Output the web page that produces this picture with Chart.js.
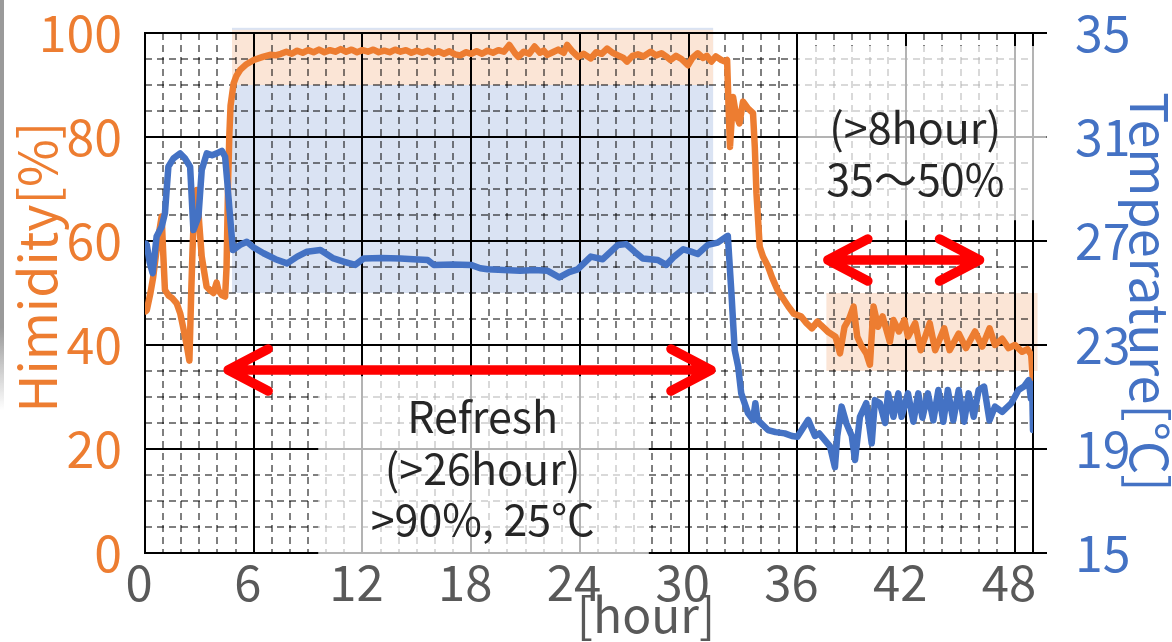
<!DOCTYPE html>
<html>
<head>
<meta charset="utf-8">
<script src="https://cdn.jsdelivr.net/npm/chart.js@4.4.1/dist/chart.umd.min.js"></script>
<style>
html, body { margin: 0; padding: 0; background: #ffffff; }
#wrap { position: relative; width: 1172px; height: 642px; overflow: hidden; }
#wrap canvas { position: absolute; left: 0; top: 0; }
#edge { position: absolute; left: 0; top: 0; width: 4px; height: 410px;
        background: linear-gradient(to bottom, #9a9a9a 0%, #9a9a9a 80%, rgba(255,255,255,0) 100%); }
</style>
</head>
<body>
<div id="wrap">
  <canvas id="chart" width="1172" height="642"></canvas>
  <div id="edge"></div>
</div>
<script>
// ---------------- data ----------------
const humidityHours = [
  0.05, 0.1, 0.3, 0.45, 0.7, 0.92, 1.0, 1.1, 1.3, 1.5,
  1.75, 1.95, 2.1, 2.3, 2.45, 2.55, 2.62, 2.7, 2.86, 3.0,
  3.13, 3.4, 3.6, 3.78, 3.95, 4.05, 4.24, 4.42, 4.5, 4.58,
  4.65, 4.72, 4.89, 5.05, 5.25, 5.6, 6.0, 6.5, 6.9, 7.2,
  7.5, 7.8, 8.1, 8.4, 8.7, 9.0, 9.3, 9.6, 9.9, 10.2,
  10.5, 10.8, 11.1, 11.4, 11.7, 12.0, 12.3, 12.6, 12.9, 13.2,
  13.5, 13.8, 14.1, 14.4, 14.7, 15.0, 15.3, 15.6, 15.9, 16.2,
  16.5, 16.8, 17.1, 17.4, 17.7, 18.0, 18.3, 18.6, 18.9, 19.2,
  19.5, 19.8, 20.1, 20.4, 20.6, 20.9, 21.2, 21.5, 21.8, 22.0,
  22.2, 22.5, 22.8, 23.1, 23.3, 23.6, 23.9, 24.2, 24.6, 24.9,
  25.2, 25.5, 25.8, 26.1, 26.4, 26.6, 26.9, 27.2, 27.5, 27.9,
  28.2, 28.5, 28.8, 29.0, 29.3, 29.6, 29.96, 30.2, 30.5, 30.8,
  31.0, 31.25, 31.5, 31.8, 32.0, 32.12, 32.2, 32.28, 32.45, 32.6,
  32.8, 33.0, 33.27, 33.55, 33.65, 33.74, 33.92, 34.1, 34.38, 34.6,
  34.9, 35.2, 35.5, 35.8, 36.2, 36.5, 36.8, 37.1, 37.3, 37.7,
  38.1, 38.35, 38.6, 38.85, 39.1, 39.3, 39.55, 39.8, 40.0, 40.2,
  40.45, 40.7, 41.1, 41.3, 41.6, 41.9, 42.1, 42.5, 42.8, 43.3,
  43.6, 44.1, 44.4, 44.9, 45.3, 45.8, 46.2, 46.6, 46.9, 47.3,
  47.65, 48.0, 48.4, 48.7, 48.9, 49.0
];
const humidity = [
  46.5, 46.7, 50, 53, 60, 64.7, 58, 50.6, 49.5, 49,
  48, 46, 43.5, 40, 37, 50, 58, 65, 69.8, 63,
  57, 51.2, 50.5, 50, 52, 50.5, 49.6, 49.3, 55, 70,
  80, 86, 90.3, 91.8, 92.9, 94, 94.8, 95.4, 95.8, 95.7,
  96.0, 96.4, 96.0, 96.6, 96.2, 96.7, 96.3, 96.8, 96.3, 96.7,
  96.4, 96.9, 96.4, 96.8, 96.3, 96.7, 96.4, 96.8, 96.3, 96.6,
  96.3, 96.8, 96.4, 96.7, 96.2, 96.6, 96.2, 96.6, 96.1, 96.5,
  96.0, 96.5, 95.9, 95.7, 96.3, 96.0, 96.5, 96.0, 96.6, 96.2,
  96.7, 96.4, 97.7, 96.2, 95.4, 96.4, 96.0, 97.4, 96.2, 96.6,
  95.8, 96.3, 96.8, 96.2, 97.7, 96.4, 95.4, 96.0, 95.1, 96.3,
  96.0, 97.0, 96.2, 95.7, 95.2, 94.5, 95.6, 95.9, 95.5, 96.4,
  95.7, 96.1, 95.4, 94.8, 95.6, 95.0, 93.8, 95.2, 96.1, 95.2,
  95.6, 94.5, 95.5, 94.8, 94.5, 94.8, 86, 78.1, 87.7, 84.5,
  82.6, 86.8, 85.5, 84.6, 78, 69.2, 58.9, 57, 55.1, 53,
  50.6, 49, 47.4, 46, 45.5, 44.2, 43.2, 44.5, 43.8, 42.5,
  41.6, 38.4, 43.5, 45, 47.4, 41.6, 39.7, 38.4, 36.2, 47.4,
  43.5, 45.5, 40.6, 44.8, 42.6, 44.8, 41.6, 44.2, 39.0, 44.2,
  39.0, 43.2, 39.0, 42.2, 39.4, 42.6, 39.7, 43.2, 40.0, 41.2,
  39.4, 40.0, 38.7, 39.2, 38.1, 33
];
const temperatureHours = [
  0.05, 0.1, 0.25, 0.42, 0.64, 0.92, 1.1, 1.29, 1.57, 1.94, 2.2, 2.49, 2.67, 2.95, 3.13, 3.41, 3.7, 3.96, 4.24, 4.42,
  4.55, 4.65, 4.85, 5.25, 5.62, 6.0, 6.54, 7.2, 7.84, 8.4, 8.94, 9.68, 10.4, 11.0, 11.6, 12.07, 13.0, 14.1, 14.8, 15.6,
  15.94, 17.0, 17.98, 18.5, 18.9, 19.8, 20.7, 21.5, 22.2, 22.86, 23.4, 23.87, 24.6, 25.26, 26.1, 26.55, 27.0, 27.47, 28.3, 28.76,
  29.2, 29.7, 30.1, 30.5, 31.06, 31.6, 32.08, 32.16, 32.36, 32.54, 32.73, 32.9, 33.28, 33.55, 33.68, 33.8, 34.38, 34.8, 35.3, 35.7,
  36.0, 36.3, 36.6, 36.97, 37.2, 37.5, 37.8, 38.07, 38.2, 38.44, 38.7, 39.0, 39.18, 39.45, 39.8, 40.1, 40.28, 40.55, 40.84, 41.0,
  41.3, 41.57, 41.75, 42.1, 42.4, 42.67, 42.9, 43.2, 43.5, 43.78, 44.05, 44.3, 44.6, 44.9, 45.2, 45.45, 45.73, 46.0, 46.3, 46.6,
  46.9, 47.3, 47.8, 48.2, 48.5, 48.76, 48.88, 48.95, 49.0
];
const temperature = [
  26.9, 26.85, 26.2, 25.76, 27.17, 27.55, 28.07, 29.86, 30.18, 30.37, 30.18, 29.86, 27.42, 27.94, 29.73, 30.37, 30.3, 30.37, 30.47, 30.24,
  29.2, 28.3, 26.65, 26.85, 26.97, 26.75, 26.53, 26.3, 26.14, 26.4, 26.59, 26.65, 26.33, 26.2, 26.08, 26.33, 26.35, 26.33, 26.3, 26.27,
  26.08, 26.1, 26.08, 25.95, 25.91, 25.88, 25.86, 25.88, 25.86, 25.6, 25.8, 25.91, 26.4, 26.3, 26.85, 26.88, 26.6, 26.33, 26.27, 26.08,
  26.4, 26.68, 26.6, 26.5, 26.85, 26.94, 27.17, 27.2, 24.99, 22.8, 22.17, 21.14, 20.37, 20.12, 20.76, 20.12, 19.73, 19.65, 19.6, 19.5,
  19.47, 19.8, 20.12, 19.5, 19.6, 19.35, 19.1, 18.3, 19.5, 20.63, 19.99, 19.5, 18.58, 20.24, 20.76, 19.22, 20.88, 20.76, 20.0, 21.14,
  20.24, 21.14, 20.24, 21.14, 20.05, 21.14, 20.2, 21.14, 20.1, 21.27, 20.05, 21.27, 20.1, 21.27, 20.05, 21.14, 20.24, 21.27, 21.4, 20.1,
  20.63, 20.43, 20.76, 21.27, 21.4, 21.65, 20.95, 21.5, 19.73
];
const hourTicks = [0, 6, 12, 18, 24, 30, 36, 42, 48];
const humidityTicks = [0, 20, 40, 60, 80, 100];
const temperatureTicks = [15, 19, 23, 27, 31, 35];

// annotation regions (in axis values)
const refreshHours = [4.8, 31.35];
const refreshTemperature = [25, 35.2];
const refreshHumidity = [90, 100.6];
const storageHours = [37.6, 49.25];
const storageHumidity = [35, 50];
const refreshArrow = { from: 4.59, to: 31.23, humidity: 35.2 };
const storageArrow = { from: 37.68, to: 46.05, humidity: 56.35 };
const refreshNote = ['Refresh', '(>26hour)', '>90%, 25°C'];
const storageNote = ['(>8hour)', '35～50%'];
const refreshNoteBox = { hours: [9.56, 27.8], humidity: [-0.6, 34.0] };
const storageNoteBox = { hours: [36.04, 49.75], humidity: [64.0, 97.5] };

// ---------------- styles ----------------
const FONT = '"Noto Sans CJK JP", "Noto Sans", sans-serif';
const ORANGE = '#ED7D31';
const BLUE = '#4472C4';
const GRAYTXT = '#595959';

const pts = (xs, ys) => xs.map((v, i) => ({ x: v, y: ys[i] }));

const decor = {
  id: 'decor',
  beforeDraw(chart) {
    const { ctx, scales: { x, y, y2 } } = chart;
    ctx.save();
    const rect = (xs, sc, vs, color) => {
      const x0 = x.getPixelForValue(xs[0]), x1 = x.getPixelForValue(xs[1]);
      const a = sc.getPixelForValue(vs[0]), b = sc.getPixelForValue(vs[1]);
      ctx.fillStyle = color;
      ctx.fillRect(x0, Math.min(a, b), x1 - x0, Math.abs(b - a));
    };
    rect(refreshHours, y2, refreshTemperature, '#DAE3F3');
    rect(refreshHours, y, refreshHumidity, '#FBE5D6');
    rect(storageHours, y, storageHumidity, '#FBE5D6');
    ctx.restore();
  },
  beforeDatasetsDraw(chart) {
    const { ctx, scales: { x, y } } = chart;
    ctx.save();
    ctx.fillStyle = 'rgba(255,255,255,0.7)';
    [refreshNoteBox, storageNoteBox].forEach(b => {
      const x0 = x.getPixelForValue(b.hours[0]), x1 = x.getPixelForValue(b.hours[1]);
      const a = y.getPixelForValue(b.humidity[0]), c = y.getPixelForValue(b.humidity[1]);
      ctx.fillRect(x0, Math.min(a, c), x1 - x0, Math.abs(c - a));
    });
    ctx.restore();
  },
  afterDatasetsDraw(chart) {
    const { ctx, scales: { x, y } } = chart;
    ctx.save();
    // arrows
    ctx.strokeStyle = '#FF0000';
    ctx.lineWidth = 9.5;
    ctx.lineCap = 'round';
    ctx.lineJoin = 'round';
    [refreshArrow, storageArrow].forEach(a => {
      const xa = x.getPixelForValue(a.from), xb = x.getPixelForValue(a.to), yy = y.getPixelForValue(a.humidity);
      ctx.beginPath();
      ctx.moveTo(xa, yy); ctx.lineTo(xb, yy);
      ctx.moveTo(xa + 40, yy - 21); ctx.lineTo(xa, yy); ctx.lineTo(xa + 40, yy + 21);
      ctx.moveTo(xb - 40, yy - 21); ctx.lineTo(xb, yy); ctx.lineTo(xb - 40, yy + 21);
      ctx.stroke();
    });
    // notes
    ctx.fillStyle = '#262626';
    ctx.font = '43px ' + FONT;
    ctx.textAlign = 'center';
    ctx.textBaseline = 'alphabetic';
    const rx = x.getPixelForValue(18.63);
    refreshNote.forEach((t, i) => ctx.fillText(t, rx, 433 + i * 51.5));
    const sx = x.getPixelForValue(42.5);
    storageNote.forEach((t, i) => ctx.fillText(t, sx, 144 + i * 52));
    // axis titles
    ctx.font = '48px ' + FONT;
    ctx.fillStyle = GRAYTXT;
    ctx.fillText('[hour]', 646, 633);
    ctx.font = '52px ' + FONT;
    ctx.save();
    ctx.translate(57, 267);
    ctx.rotate(-Math.PI / 2);
    ctx.fillStyle = ORANGE;
    ctx.fillText('Himidity[%]', 0, 0);
    ctx.restore();
    ctx.save();
    ctx.translate(1130, 292);
    ctx.rotate(Math.PI / 2);
    ctx.fillStyle = BLUE;
    ctx.fillText('Temperature[°C]', 0, 0);
    ctx.restore();
    ctx.restore();
  }
};

const noVerticalOverhang = s => { s.paddingTop = 0; s.paddingBottom = 0; };

new Chart(document.getElementById('chart'), {
  type: 'line',
  data: {
    datasets: [
      { label: 'Temperature', data: pts(temperatureHours, temperature), yAxisID: 'y2', xAxisID: 'x',
        borderColor: BLUE, borderWidth: 6.5, pointRadius: 0, tension: 0, order: 0,
        borderJoinStyle: 'round', borderCapStyle: 'round' },
      { label: 'Humidity', data: pts(humidityHours, humidity), yAxisID: 'y', xAxisID: 'x',
        borderColor: ORANGE, borderWidth: 6.5, pointRadius: 0, tension: 0, order: 1,
        borderJoinStyle: 'round', borderCapStyle: 'round' }
    ]
  },
  options: {
    responsive: false,
    devicePixelRatio: 1,
    animation: false,
    layout: { padding: { top: 33, left: 0, right: 0, bottom: 0 } },
    plugins: { legend: { display: false }, tooltip: { enabled: false } },
    scales: {
      xMinor: {
        type: 'linear', position: 'bottom', min: 0, max: 49,
        ticks: { display: false, stepSize: 1 },
        grid: { color: 'rgba(0,0,0,0.5)', lineWidth: 2, drawTicks: false, z: -2 },
        border: { display: false, dash: [7, 5] },
        afterFit: s => { s.height = 0; s.paddingLeft = 0; s.paddingRight = 0; }
      },
      yMinor: {
        type: 'linear', position: 'left', min: 0, max: 100,
        ticks: { display: false, stepSize: 5 },
        grid: { color: 'rgba(0,0,0,0.5)', lineWidth: 2, drawTicks: false, z: -2 },
        border: { display: false, dash: [7, 5] },
        afterFit: s => { s.width = 0; noVerticalOverhang(s); }
      },
      x: {
        type: 'linear', position: 'bottom', min: 0, max: 49,
        afterBuildTicks: s => { s.ticks = hourTicks.map(v => ({ value: v })); },
        ticks: { font: { family: FONT, size: 49 }, color: GRAYTXT, padding: 0, autoSkip: false,
                 maxRotation: 0, labelOffset: -6 },
        grid: { color: '#000', lineWidth: 2, drawTicks: false },
        border: { color: '#000', width: 2 },
        afterFit: s => { s.height = 89; s.paddingLeft = 0; s.paddingRight = 0; }
      },
      y: {
        type: 'linear', position: 'left', min: 0, max: 100,
        afterBuildTicks: s => { s.ticks = humidityTicks.map(v => ({ value: v })); },
        ticks: { font: { family: FONT, size: 50 }, color: ORANGE, padding: 23 },
        grid: { color: '#000', lineWidth: 2, drawTicks: false },
        border: { color: '#000', width: 2 },
        afterFit: s => { s.width = 145; noVerticalOverhang(s); }
      },
      y2: {
        type: 'linear', position: 'right', min: 15, max: 35,
        afterBuildTicks: s => { s.ticks = temperatureTicks.map(v => ({ value: v })); },
        ticks: { font: { family: FONT, size: 50 }, color: BLUE, padding: 28 },
        grid: { drawOnChartArea: false, drawTicks: true, tickLength: 14, tickColor: '#000', tickWidth: 2, color: '#000', lineWidth: 2 },
        border: { color: '#000', width: 2 },
        afterFit: s => { s.width = 139; noVerticalOverhang(s); }
      }
    }
  },
  plugins: [decor]
});
</script>
</body>
</html>
